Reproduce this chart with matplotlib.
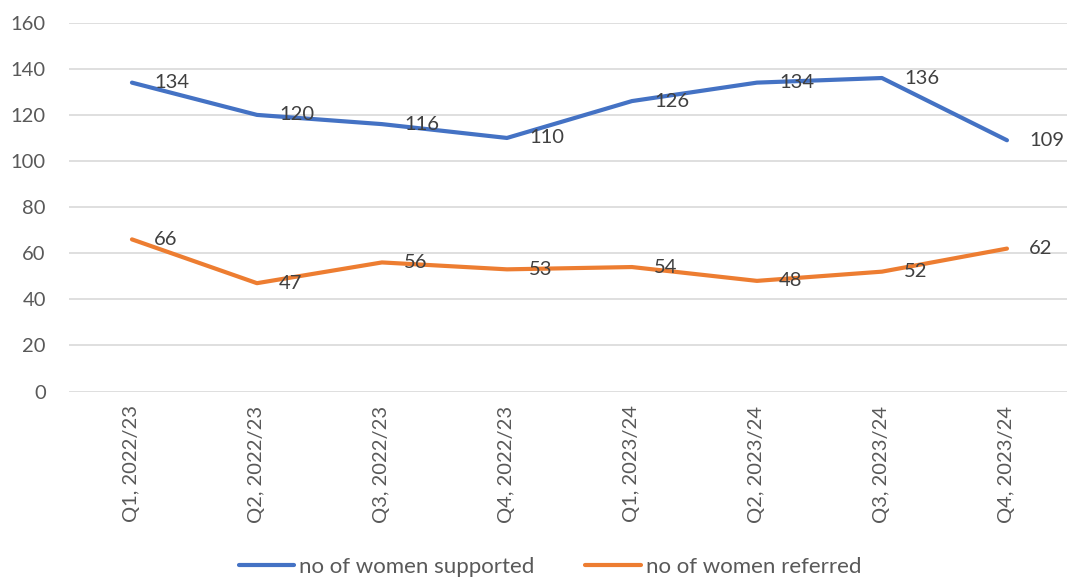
import matplotlib
matplotlib.use('Agg')
import matplotlib.pyplot as plt

plt.rcParams['font.family'] = ['Lato', 'DejaVu Sans']

quarters = ['Q1, 2022/23', 'Q2, 2022/23', 'Q3, 2022/23', 'Q4, 2022/23',
            'Q1, 2023/24', 'Q2, 2023/24', 'Q3, 2023/24', 'Q4, 2023/24']
supported = [134, 120, 116, 110, 126, 134, 136, 109]
referred = [66, 47, 56, 53, 54, 48, 52, 62]

fig = plt.figure(figsize=(10.67, 5.79), dpi=100)
ax = fig.add_axes([0.0651, 0.3238, 0.9372, 0.637])

x = list(range(len(quarters)))
ax.plot(x, supported, color='#4472C4', lw=3, solid_capstyle='round',
        label='no of women supported')
ax.plot(x, referred, color='#ED7D31', lw=3, solid_capstyle='round',
        label='no of women referred')

# data labels to the right of each point
for series in (supported, referred):
    for i, v in enumerate(series):
        ax.annotate(str(v), (i, v), xytext=(16, 0), textcoords='offset points',
                    ha='left', va='center', fontsize=14.5, color='#404040')

ax.set_xlim(-0.5, 7.5)
ax.set_ylim(0, 160)
ax.set_yticks(range(0, 161, 20))
ax.set_xticks(x)
ax.set_xticklabels(quarters, rotation=90)
ax.tick_params(axis='both', length=0, labelsize=14.5, labelcolor='#595959')
ax.tick_params(axis='y', pad=17)
ax.tick_params(axis='x', pad=10)
ax.grid(axis='y', color='#D9D9D9', lw=1.2)
ax.set_axisbelow(True)
for s in ax.spines.values():
    s.set_visible(False)

fig.legend(loc='center', bbox_to_anchor=(550 / 1067, 1 - 567 / 579), ncol=2,
           frameon=False, fontsize=16, labelcolor='#595959', handlelength=2.5,
           handletextpad=0.22, columnspacing=2.3)

fig.savefig('out.png', dpi=100)
